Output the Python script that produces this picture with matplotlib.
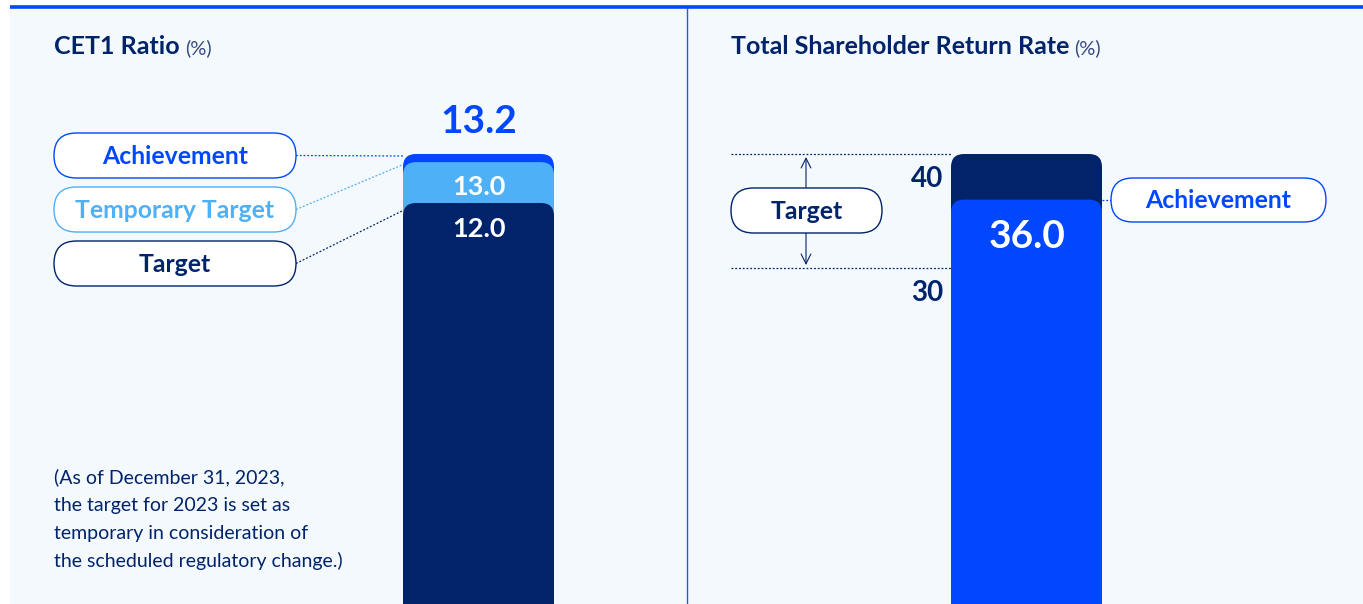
import matplotlib
matplotlib.use('Agg')
import matplotlib.pyplot as plt
from matplotlib.patches import FancyBboxPatch, Rectangle

plt.rcParams['font.family'] = ['Lato', 'DejaVu Sans']

# ---------------- data ----------------
cet1_labels = ['Achievement', 'Temporary Target', 'Target']
cet1_values = [13.2, 13.0, 12.0]
tsr_target_range = [30, 40]
tsr_achievement = 36.0
tsr_tick_labels = ['40', '30']
note_lines = ['(As of December 31, 2023,',
              'the target for 2023 is set as',
              'temporary in consideration of',
              'the scheduled regulatory change.)']

# ---------------- style ----------------
NAVY = '#00236a'
BLUE = '#0047ff'
LIGHT = '#4eb0f6'
BG = '#f4f9fe'
W, H = 1363, 604

fig = plt.figure(figsize=(W / 100, H / 100), dpi=100)
fig.patch.set_facecolor('white')
bg = fig.add_axes([0, 0, 1, 1])
bg.set_xlim(0, W)
bg.set_ylim(H, 0)
bg.axis('off')
bg.add_patch(Rectangle((10, 8), W - 10, H - 8, color=BG, zorder=0))
bg.plot([10, W], [7, 7], color=BLUE, lw=2.6, solid_capstyle='butt', zorder=1)
bg.plot([687, 687], [8, H], color='#2f55e6', lw=1.0, zorder=1)

# bar axes spanning full height, limits chosen so that the scale is linear
axL = fig.add_axes([403 / W, 0, 151 / W, 1])
axL.set_xlim(0, 1)
axL.set_ylim(2.179, 16.971)
axL.axis('off')
axL.patch.set_alpha(0)

axR = fig.add_axes([951 / W, 0, 151 / W, 1])
axR.set_xlim(0, 1)
axR.set_ylim(0.527, 53.509)
axR.axis('off')
axR.patch.set_alpha(0)

# overlay axes for texts on top of the bars
fg = fig.add_axes([0, 0, 1, 1])
fg.set_xlim(0, W)
fg.set_ylim(H, 0)
fg.axis('off')
fg.patch.set_alpha(0)

renderer = fig.canvas.get_renderer()


def ypx(ax, v):
    """pixel y (from top) of data value v on axis ax"""
    return H - ax.transData.transform((0, v))[1]


def rbar(ax, top, color, z, r_px=13):
    y0, y1 = ax.get_ylim()
    ypp = (y1 - y0) / H
    xpp = 1 / 151
    b = y0 - 2
    p = FancyBboxPatch((0, b), 1, top - b,
                       boxstyle=f"round,pad=0,rounding_size={r_px * xpp}",
                       mutation_aspect=ypp / xpp, fc=color, ec='none', zorder=z)
    ax.add_patch(p)


def pill(x0, y0, w, h, ec, text, tc, fs=17.8):
    p = FancyBboxPatch((x0, y0), w, h, boxstyle=f"round,pad=0,rounding_size={h / 2}",
                       fc='white', ec=ec, lw=1.0, zorder=3)
    fg.add_patch(p)
    fg.text(x0 + w / 2, y0 + h / 2 + 1, text, color=tc, fontsize=fs, fontweight='bold',
            ha='center', va='center', zorder=4)


def title(x, y, main, unit):
    t = fg.text(x, y, main, color=NAVY, fontsize=18, fontweight='bold', va='center', ha='left')
    ext = t.get_window_extent(renderer)
    fg.text(ext.x1 + 5, y + 1, unit, color='#34497c', fontsize=14.5, va='center', ha='left')


# ---------------- left: CET1 ----------------
title(54, 47, 'CET1 Ratio', '(%)')

bar_colors = [BLUE, LIGHT, NAVY]
for i, (v, c) in enumerate(zip(cet1_values, bar_colors)):
    rbar(axL, v, c, z=2 + i)

pill_colors = [BLUE, LIGHT, NAVY]
pill_text_colors = [BLUE, LIGHT, NAVY]
pill_y = [133, 187, 241]
leader_offsets = [2, 2, 7]
for lab, v, pc, tc, py, lo in zip(cet1_labels, cet1_values, pill_colors,
                                  pill_text_colors, pill_y, leader_offsets):
    pill(54, py, 242, 45, pc, lab, tc)
    bg.plot([296, 404], [py + 22.5, ypx(axL, v) + lo], color=pc, lw=0.9,
            ls=(0, (1.5, 1.5)), zorder=2)

# value labels
fg.text(479, ypx(axL, cet1_values[0]) - 32, f'{cet1_values[0]:.1f}', color=BLUE,
        fontsize=28, fontweight='bold', ha='center', va='center', zorder=6)
fg.text(479, (ypx(axL, cet1_values[1]) + ypx(axL, cet1_values[2])) / 2 + 4,
        f'{cet1_values[1]:.1f}', color='white', fontsize=19.5, fontweight='bold',
        ha='center', va='center', zorder=6)
fg.text(479, ypx(axL, cet1_values[2]) + 26, f'{cet1_values[2]:.1f}', color='white',
        fontsize=19.5, fontweight='bold', ha='center', va='center', zorder=6)

for i, line in enumerate(note_lines):
    fg.text(54, 477 + 28 * i, line, color=NAVY, fontsize=14, ha='left', va='center')

# ---------------- right: TSR ----------------
title(731, 47, 'Total Shareholder Return Rate', '(%)')

rbar(axR, tsr_target_range[1], NAVY, z=2)
rbar(axR, tsr_achievement, BLUE, z=3)

y_hi = ypx(axR, tsr_target_range[1])
y_lo = ypx(axR, tsr_target_range[0])
for yy in (y_hi, y_lo):
    bg.plot([731, 951], [yy, yy], color=NAVY, lw=0.9, ls=(0, (1.5, 1.5)), zorder=2)

for lab, v in zip(tsr_tick_labels, [tsr_target_range[1], tsr_target_range[0]]):
    fg.text(943, ypx(axR, v) + 25, lab, color=NAVY, fontsize=20, fontweight='bold',
            ha='right', va='center')

pill(731, 188, 151, 45, NAVY, 'Target', NAVY)
arr = dict(arrowstyle='->,head_length=0.7,head_width=0.35', color=NAVY, lw=0.8,
           shrinkA=0, shrinkB=0)
bg.annotate('', xy=(806, y_hi + 3), xytext=(806, 188), arrowprops=arr, zorder=2)
bg.annotate('', xy=(806, y_lo - 3), xytext=(806, 233), arrowprops=arr, zorder=2)

y_ach = ypx(axR, tsr_achievement)
fg.text(1027, y_ach + 37, f'{tsr_achievement:.1f}', color='white', fontsize=28,
        fontweight='bold', ha='center', va='center', zorder=6)
pill(1111, 178, 215, 44, BLUE, 'Achievement', BLUE)
bg.plot([1102, 1111], [y_ach, y_ach], color=BLUE, lw=0.9, ls=(0, (1.5, 1.5)), zorder=2)

fig.savefig('out.png', dpi=100, facecolor='white')
